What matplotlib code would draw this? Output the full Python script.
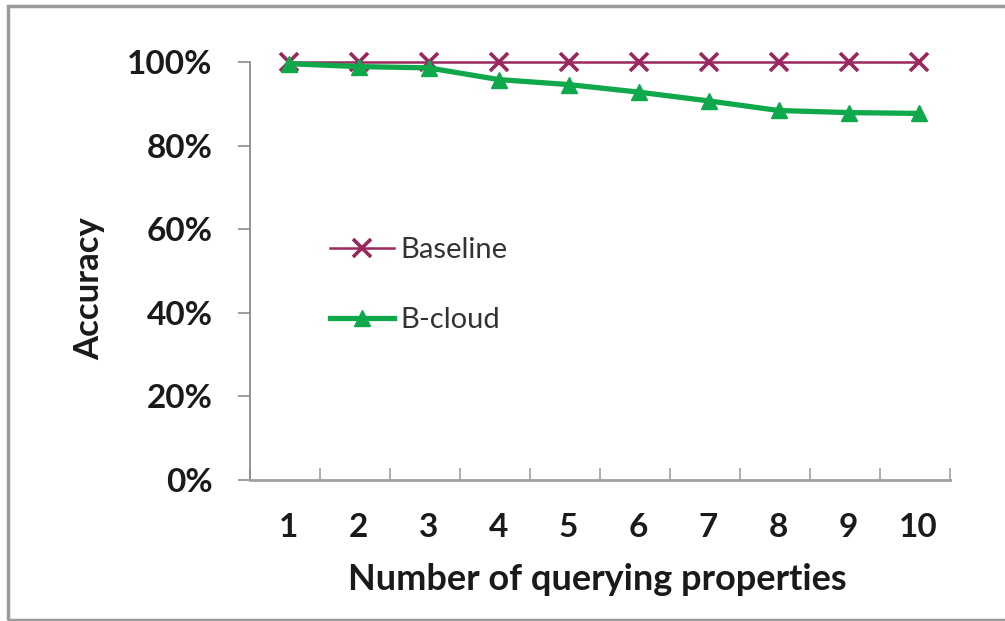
import matplotlib
matplotlib.use("Agg")
import matplotlib.pyplot as plt
from matplotlib.patches import Rectangle
from matplotlib.ticker import FixedLocator, PercentFormatter

plt.rcParams['font.family'] = ['Lato', 'DejaVu Sans']

properties = [1, 2, 3, 4, 5, 6, 7, 8, 9, 10]
tick_labels = [str(p) for p in properties]
baseline = [100, 100, 100, 100, 100, 100, 100, 100, 100, 100]
bcloud = [99.6, 98.9, 98.6, 95.8, 94.6, 92.8, 90.7, 88.4, 87.9, 87.7]
y_ticks = [0, 20, 40, 60, 80, 100]

W, H = 1005, 621
fig = plt.figure(figsize=(W / 100, H / 100), dpi=100)
fig.patch.set_facecolor('white')

# outer frame of the chart area
fig.patches.append(Rectangle((8 / W, 1 - 620 / H), 1.2, (620 - 6) / H,
                             transform=fig.transFigure, fill=False,
                             edgecolor='#9a9a9a', linewidth=2.5))

left, right, top, bottom = 250, 950, 62, 480
ax = fig.add_axes([left / W, 1 - bottom / H, (right - left) / W, (bottom - top) / H])

ax.plot(properties, baseline, color='#98285E', linewidth=1.8, marker='x',
        markersize=13, markeredgewidth=2.6, label='Baseline', zorder=3,
        clip_on=False)
ax.plot(properties, bcloud, color='#0FA84B', linewidth=3.8, marker='^',
        markersize=11, label='B-cloud', zorder=4, clip_on=False)

ax.set_xlim(0.45, 10.45)
ax.set_ylim(0, 100)
ax.set_yticks(y_ticks)
ax.yaxis.set_major_formatter(PercentFormatter(decimals=0))
ax.set_xticks(properties)
ax.set_xticklabels(tick_labels)
ax.xaxis.set_minor_locator(FixedLocator([p - 0.55 for p in properties] + [10.45]))

for s in ['top', 'right']:
    ax.spines[s].set_visible(False)
ax.spines['left'].set_color('#8c8c8c')
ax.spines['left'].set_linewidth(1.3)
ax.spines['bottom'].set_color('#a0a0a0')
ax.spines['bottom'].set_linewidth(2.0)

ax.tick_params(axis='y', direction='out', length=9, width=1.2, color='#8c8c8c',
               pad=18, labelsize=24)
ax.tick_params(axis='x', which='major', length=0, pad=24, labelsize=24)
ax.tick_params(axis='x', which='minor', direction='in', length=9, width=1.2,
               color='#a0a0a0')
for lab in ax.get_xticklabels() + ax.get_yticklabels():
    lab.set_fontweight('bold')
    lab.set_color('#1a1a1a')

fig.text(89 / W, 1 - 289 / H, 'Accuracy', rotation=90, ha='center', va='center',
         fontsize=25, fontweight='bold', color='#1a1a1a')
fig.text(597 / W, 1 - 580 / H, 'Number of querying properties', ha='center',
         va='center', fontsize=26, fontweight='bold', color='#1a1a1a')

leg = ax.legend(loc='upper left', bbox_to_anchor=(80 / (right - left), 1 - (237 - top) / (bottom - top)),
                frameon=False, fontsize=21, handlelength=2.2, handletextpad=0.2,
                labelspacing=1.5, borderaxespad=0, borderpad=0)
for t in leg.get_texts():
    t.set_color('#333333')

fig.savefig('out.png', dpi=100, facecolor='white')
